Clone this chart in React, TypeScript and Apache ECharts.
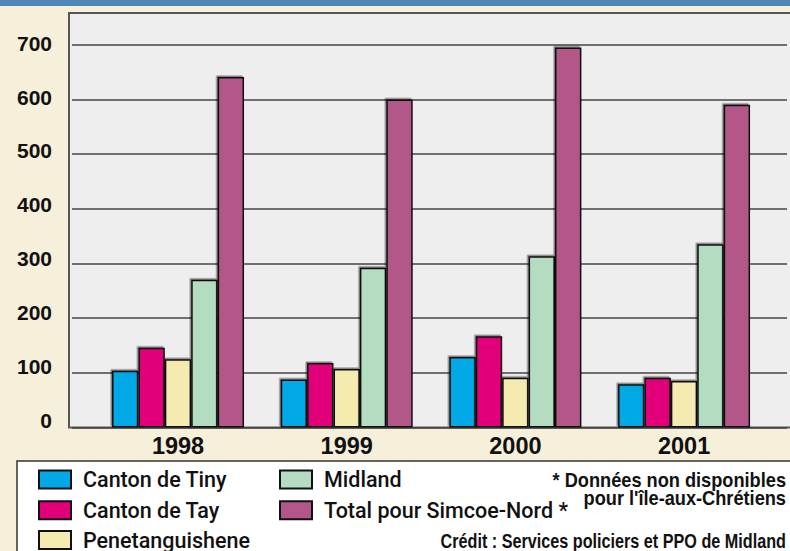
import React, { useEffect, useRef } from "react";
import * as echarts from "echarts";

const years = ["1998", "1999", "2000", "2001"];
const tinyValues = [104, 88, 129, 79];
const tayValues = [146, 118, 167, 91];
const penetValues = [125, 107, 91, 85];
const midlandValues = [270, 292, 313, 335];
const totalValues = [641, 600, 695, 590];
const yTicks = [0, 100, 200, 300, 400, 500, 600, 700];

const seriesNames = [
  "Canton de Tiny",
  "Canton de Tay",
  "Penetanguishene",
  "Midland",
  "Total pour Simcoe-Nord *",
];
const seriesColors = ["#00a8e6", "#e2007a", "#f5ebb0", "#b4dcc0", "#b35688"];
const seriesValues = [tinyValues, tayValues, penetValues, midlandValues, totalValues];

const noteLine1 = "* Données non disponibles";
const noteLine2 = "pour l'île-aux-Chrétiens";
const creditText = "Crédit : Services policiers et PPO de Midland";

// legend slot positions (left, top) for each series name
const legendLefts = [38, 38, 38, 279, 279];
const legendTops = [468.5, 499.2, 529, 468.5, 499.2];

export default function App() {
  const ref = useRef<HTMLDivElement>(null);
  useEffect(() => {
    if (!ref.current) return;
    const chart = echarts.init(ref.current, null, { renderer: "svg" });
    const sans = "'Liberation Sans', Arial, sans-serif";
    const legendFont = "Roboto, 'Liberation Sans', sans-serif";
    chart.setOption({
      animation: false,
      backgroundColor: "#f6efd9",
      grid: [
        { left: 60, width: 10, top: 43.3, bottom: 131 },
        { left: 72, right: 3, top: 44.7, bottom: 123.5 },
        { left: 93.7, right: 21.6, top: 44.7, bottom: 123.5 },
      ],
      xAxis: [
        { gridIndex: 0, type: "value", show: false },
        { gridIndex: 1, type: "value", show: false },
        {
          gridIndex: 2,
          type: "category",
          data: years,
          axisLine: { show: false },
          axisTick: { show: false },
          axisLabel: {
            margin: 6,
            fontSize: 23.5,
            fontWeight: "bold",
            fontFamily: sans,
            color: "#111",
          },
        },
      ],
      yAxis: [
        {
          gridIndex: 0,
          type: "value",
          min: 0,
          max: 700,
          interval: 100,
          axisLine: { show: false },
          axisTick: { show: false },
          splitLine: { show: false },
          axisLabel: {
            margin: 8,
            fontSize: 21,
            fontWeight: "bold",
            fontFamily: sans,
            color: "#111",
            formatter: (v: number) => (yTicks.includes(v) ? String(v) : ""),
          },
        },
        {
          gridIndex: 1,
          type: "value",
          min: 0,
          max: 700,
          interval: 100,
          axisLine: { show: false },
          axisTick: { show: false },
          axisLabel: { show: false },
          splitLine: { show: true, lineStyle: { color: "#444", width: 1.5 } },
        },
        {
          gridIndex: 2,
          type: "value",
          min: 0,
          max: 700,
          interval: 100,
          show: false,
          splitLine: { show: false },
        },
      ],
      legend: seriesNames.map((name, i) => ({
        data: [name],
        orient: "horizontal",
        left: legendLefts[i],
        top: legendTops[i],
        padding: 0,
        itemWidth: 32,
        itemHeight: 18,
        icon: "rect",
        selectedMode: false,
        textStyle: {
          fontSize: 21.5,
          fontWeight: 500,
          lineHeight: 18,
          fontFamily: legendFont,
          color: "#111",
          padding: [0, 0, 0, 7],
        },
      })),
      graphic: [
        { type: "rect", z: -10, shape: { x: 0, y: 0, width: 790, height: 6 }, style: { fill: "#4f87b8" } },
        {
          type: "rect",
          z: -10,
          shape: { x: 69, y: 13, width: 730, height: 414.5 },
          style: { fill: "#eeeeee", stroke: "#555", lineWidth: 2 },
        },
        {
          type: "rect",
          z: -10,
          shape: { x: 17, y: 461, width: 790, height: 100 },
          style: { fill: "#ffffff", stroke: "#333", lineWidth: 1.5 },
        },
        {
          type: "text",
          z: 10,
          x: 786,
          y: 480.5,
          scaleX: 0.91,
          style: {
            text: noteLine1,
            fontSize: 20,
            fontWeight: "bold",
            fontFamily: sans,
            fill: "#111",
            align: "right",
            verticalAlign: "middle",
          },
        },
        {
          type: "text",
          z: 10,
          x: 786,
          y: 498,
          scaleX: 0.91,
          style: {
            text: noteLine2,
            fontSize: 20,
            fontWeight: "bold",
            fontFamily: sans,
            fill: "#111",
            align: "right",
            verticalAlign: "middle",
          },
        },
        {
          type: "text",
          z: 10,
          x: 786,
          y: 541.5,
          scaleX: 0.81,
          style: {
            text: creditText,
            fontSize: 20,
            fontWeight: "bold",
            fontFamily: sans,
            fill: "#111",
            align: "right",
            verticalAlign: "middle",
          },
        },
      ],
      series: seriesNames.map((name, i) => ({
        name,
        type: "bar",
        xAxisIndex: 2,
        yAxisIndex: 2,
        data: seriesValues[i],
        barWidth: 26.4,
        barGap: "0%",
        itemStyle: {
          color: seriesColors[i],
          borderColor: "#111",
          borderWidth: 1.5,
          shadowColor: "rgba(0,0,0,0.45)",
          shadowOffsetX: -1.5,
          shadowOffsetY: -1.5,
          shadowBlur: 1,
        },
      })),
    });
    return () => chart.dispose();
  }, []);
  return (
    <div
      ref={ref}
      style={{ position: "fixed", left: 0, top: 0, width: 790, height: 551 }}
    />
  );
}
